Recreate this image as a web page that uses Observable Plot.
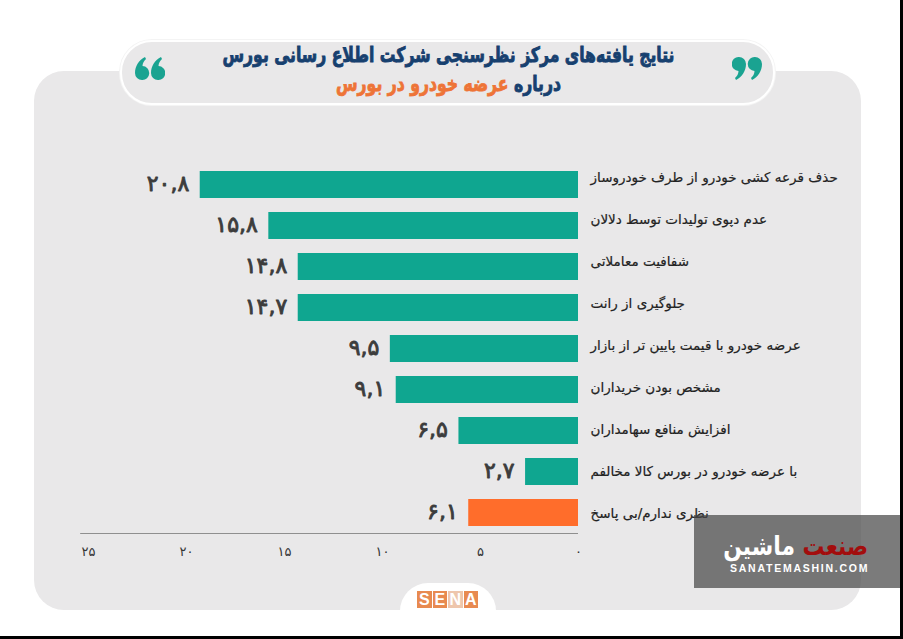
<!DOCTYPE html>
<html lang="fa">
<head>
<meta charset="utf-8">
<script src="https://cdn.jsdelivr.net/npm/d3@7"></script>
<script src="https://cdn.jsdelivr.net/npm/@observablehq/plot@0.6"></script>
<style>
html,body{margin:0;padding:0;background:#fff}
#page{position:relative;width:903px;height:639px;overflow:hidden;background:#fff;font-family:"DejaVu Sans","Noto Sans",sans-serif}
#panel{position:absolute;left:34px;top:71px;width:827px;height:539px;border-radius:30px;background:#e9e8e9}
#pill{position:absolute;left:120px;top:40px;width:651px;height:61px;border-radius:32px;background:#e9e8e9;border:2px solid #fff;box-shadow:0 0 0 1px #f4f4f4}
#title{position:absolute;left:120px;top:41px;width:655px;text-align:center;direction:rtl;font-weight:700;font-size:21px;line-height:29px;color:#17406f;-webkit-text-stroke:.9px currentColor;transform:translateX(1px) scaleX(.745);white-space:nowrap}
#title span{color:#ee7437}
.q{position:absolute;top:57px;width:30px;height:23px;fill:#1aa391}
#chart{position:absolute;left:0;top:0}
#logoBg{position:absolute;left:400px;top:583px;width:96px;height:40px;border-radius:28px 28px 0 0;background:#fff}
#logo{position:absolute;left:417px;top:591px;display:flex;gap:1px}
#logo b{width:14.5px;height:17px;background:#e88a50;color:#fff;font:700 16px/17px "Liberation Sans",sans-serif;text-align:center}
#logo b.n{background:#eec6ac}
#mark{position:absolute;left:694px;top:515px;width:209px;height:73px;background:rgba(72,72,72,.72)}
#markFa{position:absolute;left:0;width:174px;top:13px;text-align:right;direction:rtl;font-weight:700;font-size:26px;line-height:36px;color:#fff;font-family:"DejaVu Sans",sans-serif;transform:scaleX(.84);transform-origin:100% 50%;white-space:nowrap}
#markFa span{color:#a30d0d}
#markEn{position:absolute;left:36px;top:47px;font:700 10.5px/13px "Liberation Sans",Arial,sans-serif;letter-spacing:1.75px;color:#fff;white-space:nowrap}
#edgeR{position:absolute;left:900px;top:0;width:3px;height:639px;background:#000}
#edgeB{position:absolute;left:0;top:636px;width:903px;height:3px;background:#000}
</style>
</head>
<body>
<div id="page">
  <div id="panel"></div>
  <div id="pill"></div>
  <svg class="q" style="left:135px" viewBox="0 0 30 23"><g transform="rotate(180 15 11.5)"><path d="M7 0a7 7 0 0 1 7 7c0 7-4 13-10 16l-1-2c2-2 3.500-4 3.500-7A7 7 0 0 1 7 0z"/><path d="M23 0a7 7 0 0 1 7 7c0 7-4 13-10 16l-1-2c2-2 3.500-4 3.500-7A7 7 0 0 1 23 0z"/></g></svg>
  <svg class="q" style="left:732px" viewBox="0 0 30 23"><path d="M7 0a7 7 0 0 1 7 7c0 7-4 13-10 16l-1-2c2-2 3.500-4 3.500-7A7 7 0 0 1 7 0z"/><path d="M23 0a7 7 0 0 1 7 7c0 7-4 13-10 16l-1-2c2-2 3.500-4 3.500-7A7 7 0 0 1 23 0z"/></svg>
  <div id="title">نتایج یافته‌های مرکز نظرسنجی شرکت اطلاع رسانی بورس<br>درباره <span>عرضه خودرو در بورس</span></div>
  <div id="chart"></div>
  <div id="logoBg"></div>
  <div id="logo"><b>S</b><b>E</b><b class="n">N</b><b>A</b></div>
  <div id="mark">
    <div id="markFa"><span>صنعت</span> ماشین</div>
    <div id="markEn">SANATEMASHIN.COM</div>
  </div>
  <div id="edgeR"></div>
  <div id="edgeB"></div>
</div>
<script>
const categories = [
  "حذف قرعه کشی خودرو از طرف خودروساز",
  "عدم دپوی تولیدات توسط دلالان",
  "شفافیت معاملاتی",
  "جلوگیری از رانت",
  "عرضه خودرو با قیمت پایین تر از بازار",
  "مشخص بودن خریداران",
  "افزایش منافع سهامداران",
  "با عرضه خودرو در بورس کالا مخالفم",
  "نظری ندارم/بی پاسخ"
];
// Bar lengths as drawn, read against the printed axis
const barLengths = [19.3, 15.8, 14.3, 14.3, 9.6, 9.3, 6.1, 2.7, 5.6];
// Values as printed beside the bars
const printedValues = ["۲۰,۸", "۱۵,۸", "۱۴,۸", "۱۴,۷", "۹,۵", "۹,۱", "۶,۵", "۲,۷", "۶,۱"];
const groups = ["answer", "answer", "answer", "answer", "answer", "answer", "answer", "answer", "none"];
const xTicks = [0, 5, 10, 15, 20, 25];
const tickLabels = ["۰", "۵", "۱۰", "۱۵", "۲۰", "۲۵"];

const rows = categories.map((c, i) => ({c, v: barLengths[i], t: printedValues[i], g: groups[i]}));
const faFont = '"DejaVu Sans","Noto Sans",sans-serif';
const last = categories.length - 1;

const plot = Plot.plot({
  width: 903, height: 639,
  marginLeft: 88, marginRight: 325, marginTop: 164, marginBottom: 106,
  style: {background: "transparent", fontFamily: faFont, overflow: "visible"},
  x: {domain: [25, 0], axis: null},
  y: {domain: categories, paddingInner: 0.34, paddingOuter: 0.17, axis: null},
  color: {domain: ["answer", "none"], range: ["#0fa690", "#ff6d2b"]},
  marks: [
    Plot.ruleX([0], {y1: categories[0], y2: categories[last], stroke: "#a9a9a9", strokeWidth: 1}),
    Plot.ruleX([0], {y1: categories[last], y2: categories[last], insetBottom: -21, stroke: "#a9a9a9", strokeWidth: 1}),
    Plot.barX(rows, {x: "v", y: "c", fill: "g"}),
    Plot.ruleY([categories[last]], {x1: 0, x2: 25.4, dy: 20.5, stroke: "#8f8f8f", strokeWidth: 1.2}),
    Plot.axisX({anchor: "bottom", ticks: xTicks, tickSize: 0, tickPadding: 13, label: null,
      tickFormat: d => tickLabels[xTicks.indexOf(d)], fontSize: 13, fill: "#333", dx: 0}),
    Plot.text(rows, {x: "v", y: "c", text: "t", textAnchor: "end", dx: -11, dy: -1,
      fontSize: 22, fontWeight: 400, fill: "#3c3c3c", stroke: "#3c3c3c", strokeWidth: 0.9}),
    ...rows.map((r, i) => Plot.text([r], {x: 0, y: "c", text: "c", textAnchor: "start", dx: 12, dy: (i - last) + 1,
      fontSize: 13.5, fill: "#222", stroke: "#222", strokeWidth: 0.2}))
  ]
});
document.getElementById("chart").appendChild(plot);
</script>
</body>
</html>
